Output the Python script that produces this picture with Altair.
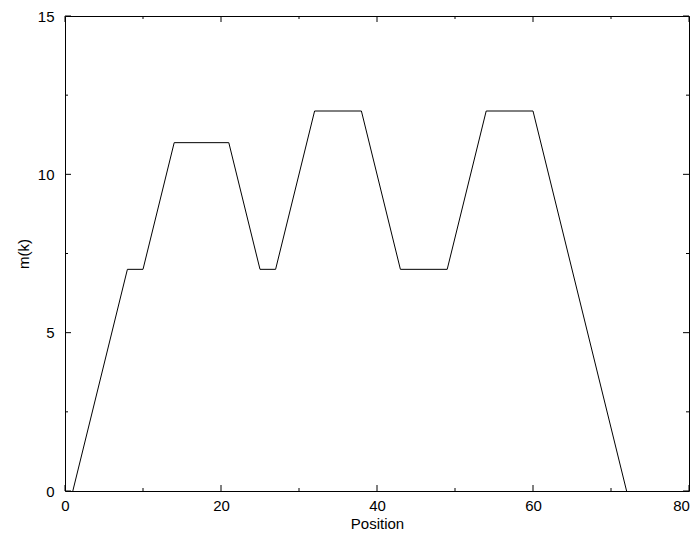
import altair as alt
import pandas as pd

# Data (vertices of the piecewise-linear curve)
positions = [1, 8, 10, 14, 21, 25, 27, 32, 38, 43, 49, 54, 60, 72]
m_values = [0, 7, 7, 11, 11, 7, 7, 12, 12, 7, 7, 12, 12, 0]

x_major = [0, 20, 40, 60, 80]
x_minor = [10, 30, 50, 70]
y_major = [0, 5, 10, 15]
y_minor = [2.5, 7.5, 12.5]

W, H = 624, 475
FONT = "Liberation Sans"

xs = alt.Scale(domain=[0, 80], nice=False, zero=False)
ys = alt.Scale(domain=[0, 15], nice=False, zero=False)

ax_x = alt.Axis(values=x_major, ticks=False, domain=False, grid=False,
                labelPadding=7, labelFontSize=15, labelFont=FONT,
                labelColor="black", labelFlush=False, labelBound=False,
                labelOffset=alt.ExprRef(expr="datum.value == 80 ? -8 : 0"),
                title="Position", titleFontSize=15, titleFont=FONT,
                titleFontWeight="normal", titleColor="black",
                titleY=37, titleBaseline="alphabetic")
ax_y = alt.Axis(values=y_major, ticks=False, domain=False, grid=False,
                labelPadding=11, labelFontSize=15, labelFont=FONT,
                labelColor="black", labelFlush=False, labelBound=False,
                title="m(k)", titleFontSize=15, titleFont=FONT,
                titleFontWeight="normal", titleColor="black",
                titleX=-37, titleBaseline="alphabetic")

df = pd.DataFrame({"Position": positions, "m": m_values})

line = alt.Chart(df).mark_line(color="black", strokeWidth=1).encode(
    x=alt.X("Position:Q", scale=xs, axis=ax_x),
    y=alt.Y("m:Q", scale=ys, axis=ax_y),
)

def xticks(vals, length):
    d = pd.DataFrame({"tx": vals})
    b = alt.Chart(d).mark_rule(color="black", strokeWidth=1).encode(
        x=alt.X("tx:Q", scale=xs, axis=ax_x), y=alt.value(H), y2=alt.value(H - length))
    t = alt.Chart(d).mark_rule(color="black", strokeWidth=1).encode(
        x=alt.X("tx:Q", scale=xs, axis=ax_x), y=alt.value(0), y2=alt.value(length))
    return [b, t]

def yticks(vals, length):
    d = pd.DataFrame({"ty": vals})
    l = alt.Chart(d).mark_rule(color="black", strokeWidth=1).encode(
        y=alt.Y("ty:Q", scale=ys, axis=ax_y), x=alt.value(0), x2=alt.value(length))
    r = alt.Chart(d).mark_rule(color="black", strokeWidth=1).encode(
        y=alt.Y("ty:Q", scale=ys, axis=ax_y), x=alt.value(W), x2=alt.value(W - length))
    return [l, r]

layers = [line] + xticks(x_major, 6) + xticks(x_minor, 3) + yticks(y_major, 6) + yticks(y_minor, 3)

chart = alt.layer(*layers).properties(
    width=W, height=H,
    background="white",
    autosize=alt.AutoSizeParams(type="none"),
    padding={"left": 57, "top": 8, "right": 1, "bottom": 41},
).configure_view(stroke="black", strokeWidth=1)

chart.save("out.html", embed_options={"renderer": "svg", "actions": False})
